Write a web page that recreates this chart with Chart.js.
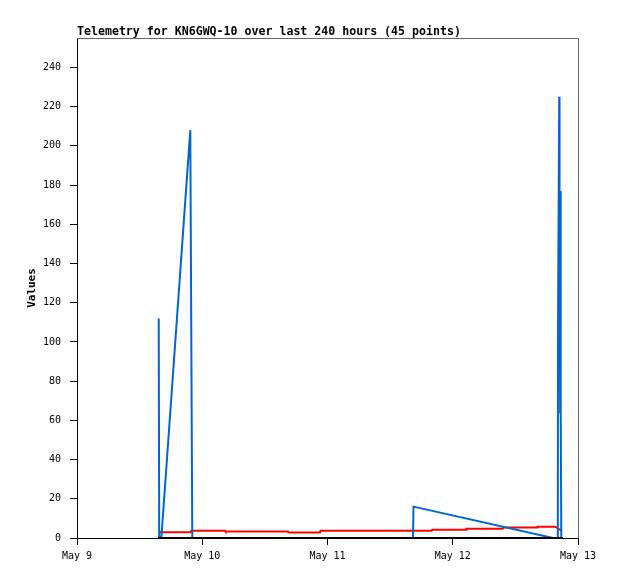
<!DOCTYPE html>
<html>
<head>
<meta charset="utf-8">
<script src="https://cdn.jsdelivr.net/npm/chart.js@4/dist/chart.umd.min.js"></script>
<style>
  html, body { margin: 0; padding: 0; background: #fff; }
  #wrap { width: 618px; height: 579px; position: relative; }
</style>
</head>
<body>
<div id="wrap"><canvas id="telemetryChart"></canvas></div>
<script>
// Telemetry data, hours since May 9 00:00
const dayLabels = ['May 9', 'May 10', 'May 11', 'May 12', 'May 13'];
const yTickValues = [0, 20, 40, 60, 80, 100, 120, 140, 160, 180, 200, 220, 240];

const blueHours  = [15.66, 15.75, 16.19, 21.71, 21.90, 22.09, 64.38, 64.48, 91.21, 92.13, 92.18, 92.40, 92.46, 92.58, 92.64, 92.74, 92.80];
const blueValues = [112,   0,     1,     208,   104,   0,     0,     16,    0,     0,     112,   225,   177,   64,    177,   64,    0];

const redHours  = [15.90, 21.79, 21.90, 28.36, 28.46, 40.43, 40.53, 46.56, 46.66, 67.97, 68.06, 74.54, 74.64, 81.57, 81.67, 88.15, 88.24, 91.60, 92.88];
const redValues = [2.9,   2.9,   3.7,   3.7,   3.3,   3.3,   2.8,   2.8,   3.7,   3.7,   4.2,   4.2,   4.7,   4.7,   5.3,   5.3,   5.8,   5.8,   3.7];

const blackHours  = [15.52, 93.13];
const blackValues = [0, 0];

const toPoints = (xs, ys) => xs.map((x, i) => ({ x: x, y: ys[i] }));

Chart.defaults.font.family = "'DejaVu Sans Mono', monospace";
Chart.defaults.font.size = 10;
Chart.defaults.color = '#000';

// frame (gray top/right) + title drawn at the plot's left edge
const framePlugin = {
    id: 'frame',
    afterDraw(chart) {
        const { ctx, chartArea } = chart;
        ctx.save();
        ctx.strokeStyle = '#666';
        ctx.lineWidth = 1;
        ctx.beginPath();
        ctx.moveTo(chartArea.left, chartArea.top + 0.5);
        ctx.lineTo(chartArea.right + 0.5, chartArea.top + 0.5);
        ctx.lineTo(chartArea.right + 0.5, chartArea.bottom);
        ctx.stroke();
        ctx.fillStyle = '#000';
        ctx.font = "bold 11.6px 'DejaVu Sans Mono', monospace";
        ctx.textBaseline = 'alphabetic';
        ctx.textAlign = 'left';
        ctx.fillText('Telemetry for KN6GWQ-10 over last 240 hours (45 points)', chartArea.left, 35);
        ctx.restore();
    }
};

const ctx = document.getElementById('telemetryChart').getContext('2d');
new Chart(ctx, {
    type: 'line',
    data: {
        datasets: [
            {
                label: 'ch3',
                data: toPoints(blackHours, blackValues),
                borderColor: '#000',
                borderWidth: 2,
                pointRadius: 0,
                tension: 0
            },
            {
                label: 'ch1',
                data: toPoints(blueHours, blueValues),
                borderColor: '#0066cc',
                borderWidth: 2,
                pointRadius: 0,
                tension: 0
            },
            {
                label: 'ch2',
                data: toPoints(redHours, redValues),
                borderColor: '#ff0000',
                borderWidth: 2,
                pointRadius: 0,
                tension: 0
            }
        ]
    },
    options: {
        responsive: true,
        maintainAspectRatio: false,
        animation: false,
        layout: { padding: { top: 38, right: 40, left: 0, bottom: 0 } },
        plugins: {
            legend: { display: false },
            tooltip: { enabled: false }
        },
        scales: {
            x: {
                type: 'linear',
                min: 0,
                max: 96,
                afterFit(scale) { scale.height = 41; },
                border: { color: '#000', width: 1 },
                grid: { drawOnChartArea: false, tickLength: 7, color: '#000' },
                ticks: {
                    stepSize: 24,
                    padding: 5,
                    maxRotation: 0,
                    callback: (v) => dayLabels[v / 24]
                }
            },
            y: {
                min: 0,
                max: 255,
                afterFit(scale) { scale.width = 77; },
                afterBuildTicks(scale) {
                    scale.ticks = yTickValues.map(v => ({ value: v }));
                },
                border: { color: '#000', width: 1 },
                grid: { drawOnChartArea: false, tickLength: 7, color: '#000' },
                ticks: { padding: 9 },
                title: {
                    display: true,
                    text: 'Values',
                    font: { weight: 'bold', size: 11 },
                    padding: { top: 26, bottom: 0 }
                }
            }
        }
    },
    plugins: [framePlugin]
});
</script>
</body>
</html>
